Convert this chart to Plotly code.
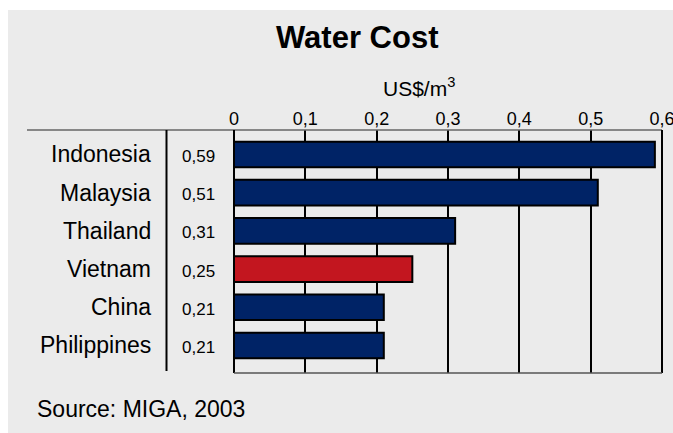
import plotly.graph_objects as go

# ---- data ----
countries = ["Indonesia", "Malaysia", "Thailand", "Vietnam", "China", "Philippines"]
costs = [0.59, 0.51, 0.31, 0.25, 0.21, 0.21]
value_labels = ["0,59", "0,51", "0,31", "0,25", "0,21", "0,21"]
tick_values = [0, 0.1, 0.2, 0.3, 0.4, 0.5, 0.6]
tick_labels = ["0", "0,1", "0,2", "0,3", "0,4", "0,5", "0,6"]
highlight = "Vietnam"
title_text = "Water Cost"
unit_text = "US$/m<sup>3</sup>"
source_text = "Source: MIGA, 2003"

# ---- layout geometry (pixels) ----
W, H = 673, 433
PL, PR, PT, PB = 234, 662, 130, 373  # plot area edges


def px(x):
    return (x - PL) / (PR - PL)


def py(y):
    return (PB - y) / (PB - PT)


NAVY = "#002366"
RED = "#C3161F"
BG = "#EBEBEB"
FONT = "Liberation Sans, Arial, sans-serif"

colors = [RED if c == highlight else NAVY for c in countries]

fig = go.Figure()
fig.add_trace(go.Bar(
    x=costs,
    y=countries,
    orientation="h",
    width=0.67,
    marker=dict(color=colors, line=dict(color="black", width=2)),
    hoverinfo="x+y",
))

annotations = [
    dict(text="<b>" + title_text + "</b>", xref="paper", yref="paper",
         x=px(356.5), y=py(38), xanchor="center", yanchor="middle",
         showarrow=False, font=dict(size=31, color="black", family=FONT)),
    dict(text=unit_text, xref="paper", yref="paper",
         x=px(381), y=py(87), xanchor="left", yanchor="middle",
         showarrow=False, font=dict(size=21, color="black", family=FONT)),
    dict(text=source_text, xref="paper", yref="paper",
         x=px(35), y=py(409), xanchor="left", yanchor="middle",
         showarrow=False, font=dict(size=23, color="black", family=FONT)),
]
for c, v in zip(countries, value_labels):
    annotations.append(dict(text=c, xref="paper", yref="y", x=px(153), y=c,
                            xanchor="right", yanchor="middle", showarrow=False,
                            font=dict(size=23, color="black", family=FONT)))
    annotations.append(dict(text=v, xref="paper", yref="y", x=px(198.5), y=c,
                            xanchor="center", yanchor="middle", showarrow=False,
                            yshift=-2,
                            font=dict(size=17, color="black", family=FONT)))

shapes = [
    # grey card background
    dict(type="rect", xref="paper", yref="paper", x0=px(8), x1=px(W + 5),
         y0=py(H + 5), y1=py(10), fillcolor=BG, line=dict(width=0), layer="below"),
    # top rule
    dict(type="line", xref="paper", yref="paper", x0=px(27), x1=px(PR),
         y0=1, y1=1, line=dict(color="#666666", width=1.5), layer="above"),
    # separator between names and values
    dict(type="line", xref="paper", yref="paper", x0=px(166.5), x1=px(166.5),
         y0=py(371), y1=1, line=dict(color="black", width=2), layer="above"),
    # plot borders
    dict(type="line", xref="paper", yref="paper", x0=0, x1=0, y0=0, y1=1,
         line=dict(color="black", width=2), layer="above"),
    dict(type="line", xref="paper", yref="paper", x0=1, x1=1, y0=0, y1=1,
         line=dict(color="black", width=2), layer="above"),
    dict(type="line", xref="paper", yref="paper", x0=0, x1=1, y0=0, y1=0,
         line=dict(color="#555555", width=1.5), layer="above"),
]

fig.update_layout(
    width=W, height=H,
    autosize=False,
    margin=dict(l=PL, r=W - PR, t=PT, b=H - PB, pad=0, autoexpand=False),
    paper_bgcolor="white",
    plot_bgcolor="white",
    showlegend=False,
    font=dict(family=FONT, color="black"),
    annotations=annotations,
    shapes=shapes,
    xaxis=dict(
        side="top", range=[0, 0.6], tickvals=tick_values, ticktext=tick_labels,
        showgrid=True, gridcolor="black", gridwidth=2, zeroline=False,
        showline=False, ticks="", ticklen=0, ticklabeloverflow="allow",
        automargin=False,
        tickfont=dict(size=18, color="black", family=FONT),
        fixedrange=True,
    ),
    yaxis=dict(
        type="category", categoryorder="array", categoryarray=countries,
        range=[5.72, -0.64], showticklabels=False, showgrid=False,
        zeroline=False, showline=False, ticks="", fixedrange=True,
        automargin=False,
    ),
)

fig.write_html(
    "out.html",
    config={"displayModeBar": False},
    post_script="document.body.style.margin='0';document.body.style.overflow='hidden';",
)
